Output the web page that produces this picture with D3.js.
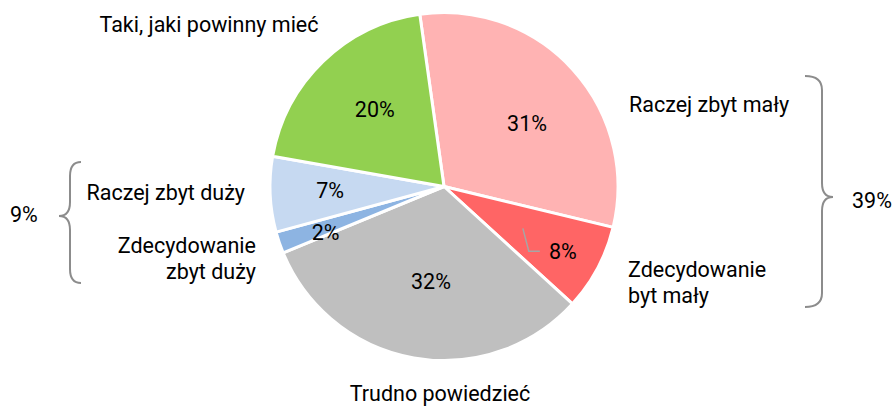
<!DOCTYPE html>
<html><head><meta charset="utf-8">
<script src="https://cdn.jsdelivr.net/npm/d3@7"></script>
<style>
html,body{margin:0;padding:0;background:#fff;}
svg{display:block;font-family:Roboto,"Noto Sans",sans-serif;}
</style></head>
<body>
<svg id="chart" width="895" height="407"></svg>
<script>
const categories = ["Raczej zbyt mały", "Zdecydowanie byt mały", "Trudno powiedzieć", "Zdecydowanie zbyt duży", "Raczej zbyt duży", "Taki, jaki powinny mieć"];
const values = [31, 8, 32, 2, 7, 20];
const colors = ["#FFB3B3", "#FF6565", "#BFBFBF", "#8DB4E2", "#C6D9F1", "#92D050"];
const groupLabels = ["39%", "9%"];

const FS = 21.5;
const svg = d3.select("#chart");
const cx = 444, cy = 186.5, R = 174;
const g = svg.append("g").attr("transform", `translate(${cx},${cy})`);

const startA = -8 * Math.PI / 180;
const pie = d3.pie().sort(null).value(d => d).startAngle(startA).endAngle(startA + 2 * Math.PI);
const arcs = pie(values);
const arc = d3.arc().innerRadius(0).outerRadius(R);
const labelArc = d3.arc().innerRadius(104).outerRadius(104);

g.selectAll("path.slice").data(arcs).join("path")
  .attr("class", "slice")
  .attr("d", arc)
  .attr("fill", (d, i) => colors[i])
  .attr("stroke", "#fff")
  .attr("stroke-width", 3)
  .attr("stroke-linejoin", "round");

// label nudges relative to centroid
const nudge = [[6, 7], [27, 16], [5, -7], [-20, 12], [-10, -1], [3, -2]];
const fmt = v => v + "%";
arcs.forEach((d, i) => {
  const c = labelArc.centroid(d);
  g.append("text")
    .attr("x", c[0] + nudge[i][0])
    .attr("y", c[1] + nudge[i][1])
    .attr("dy", "0.35em")
    .attr("text-anchor", "middle")
    .attr("font-size", FS)
    .attr("fill", "#000")
    .text(fmt(values[i]));
});

// leader line for the small red slice label
{
  const d = arcs[1];
  const c = labelArc.centroid(d);
  const lx = c[0] + nudge[1][0], ly = c[1] + nudge[1][1];
  g.append("path")
    .attr("d", `M${lx - 23},${ly} L${lx - 34},${ly} L${lx - 40},${ly - 23}`)
    .attr("fill", "none")
    .attr("stroke", "#A6A6A6")
    .attr("stroke-width", 1.5);
}

// category labels
const cat = svg.append("g").attr("font-size", FS).attr("fill", "#000");
function lbl(lines, x, y, anchor) {
  const t = cat.append("text").attr("x", x).attr("y", y).attr("text-anchor", anchor);
  lines.forEach((s, k) => t.append("tspan").attr("x", x).attr("dy", k === 0 ? 0 : 25.5).text(s));
}
lbl(["Raczej zbyt mały"], 629, 111.5, "start");
lbl(["Zdecydowanie", "byt mały"], 628, 277, "start");
lbl(["Trudno powiedzieć"], 440, 401, "middle");
lbl(["Zdecydowanie", "zbyt duży"], 256, 253, "end");
lbl(["Raczej zbyt duży"], 245, 200, "end");
lbl(["Taki, jaki powinny mieć"], 209, 32, "middle");

// braces
function brace(x0, xv, xt, yTop, yMid, yBot) {
  const rc = 14;
  return `M${x0},${yTop} Q${xv},${yTop} ${xv},${yTop + rc} L${xv},${yMid - rc} Q${xv},${yMid} ${xt},${yMid}` +
         ` Q${xv},${yMid} ${xv},${yMid + rc} L${xv},${yBot - rc} Q${xv},${yBot} ${x0},${yBot}`;
}
svg.append("path").attr("d", brace(805, 822, 833, 76, 197, 307))
  .attr("fill", "none").attr("stroke", "#8C8C8C").attr("stroke-width", 2);
svg.append("path").attr("d", brace(81, 70, 59, 162, 216, 283))
  .attr("fill", "none").attr("stroke", "#8C8C8C").attr("stroke-width", 2);

svg.append("text").attr("x", 852).attr("y", 208).attr("font-size", FS).text(groupLabels[0]);
svg.append("text").attr("x", 10).attr("y", 222).attr("font-size", FS).text(groupLabels[1]);
</script>
</body></html>
